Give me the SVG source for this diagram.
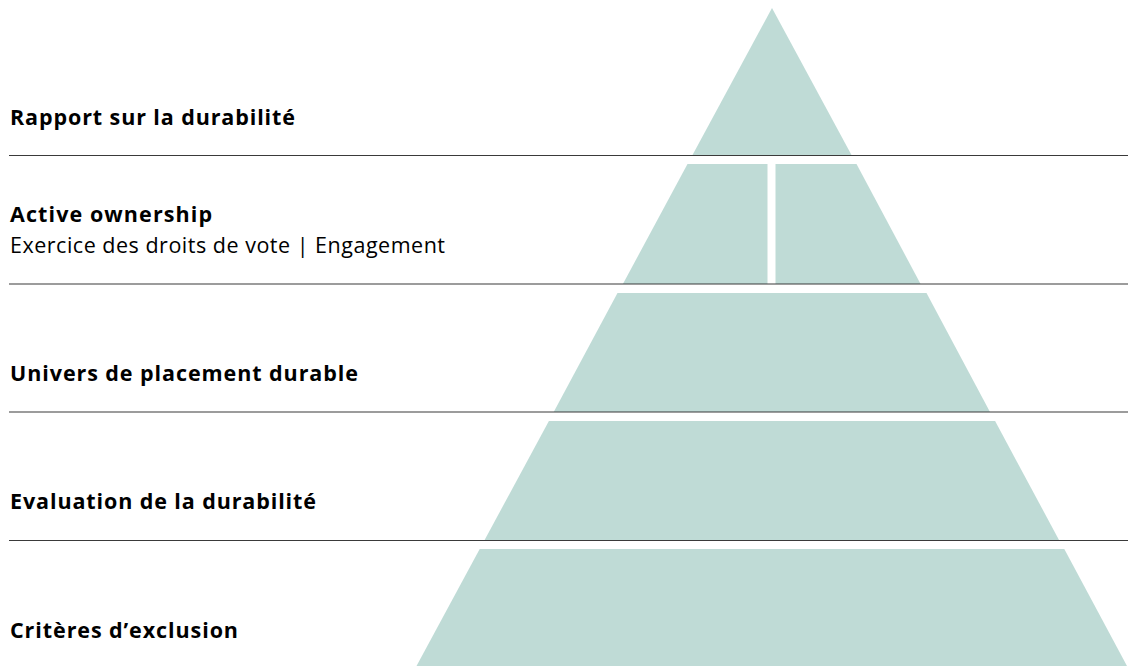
<svg xmlns="http://www.w3.org/2000/svg" width="1134" height="666" viewBox="0 0 1134 666">
<style>
.seg{fill:#bfdbd6;}
.rule{stroke:#3a3a3a;stroke-width:1.2;fill:none;}
.t{font-family:"Open Sans","Noto Sans","DejaVu Sans",sans-serif;font-size:21.5px;fill:#000;}
.b{font-weight:bold;}
</style>
<rect width="1134" height="666" fill="#fff"/>
<g id="level5">
<polygon class="seg" points="479.7,549 1064.3,549 1127,666 416.5,666"/>
<text class="t b" x="10" y="638" textLength="228" lengthAdjust="spacing">Critères d’exclusion</text>
</g>
<g id="level4">
<polygon class="seg" points="548.9,421 995.1,421 1059,540 484.6,540"/>
<text class="t b" x="10" y="509" textLength="306" lengthAdjust="spacing">Evaluation de la durabilité</text>
</g>
<g id="level3">
<polygon class="seg" points="617.5,293 926.5,293 990,412 553.7,412"/>
<text class="t b" x="10" y="381" textLength="348" lengthAdjust="spacing">Univers de placement durable</text>
</g>
<g id="level2">
<polygon class="seg" points="687.5,164 767.5,164 767.5,284 622.9,284"/>
<polygon class="seg" points="775.5,164 856.5,164 920.6,284 775.5,284"/>
<text class="t b" x="10" y="222" textLength="202" lengthAdjust="spacing">Active ownership</text>
<text class="t" x="10" y="253" textLength="435" lengthAdjust="spacing">Exercice des droits de vote | Engagement</text>
</g>
<g id="level1">
<polygon class="seg" points="772,8 851.5,155 692.5,155"/>
<text class="t b" x="10" y="125" textLength="285" lengthAdjust="spacing">Rapport sur la durabilité</text>
</g>
<g id="connectors">
<line class="rule" x1="9" y1="155.5" x2="1128" y2="155.5"/>
<line class="rule" x1="9" y1="284" x2="1128" y2="284"/>
<line class="rule" x1="9" y1="412" x2="1128" y2="412"/>
<line class="rule" x1="9" y1="540.5" x2="1128" y2="540.5"/>
</g>
</svg>
